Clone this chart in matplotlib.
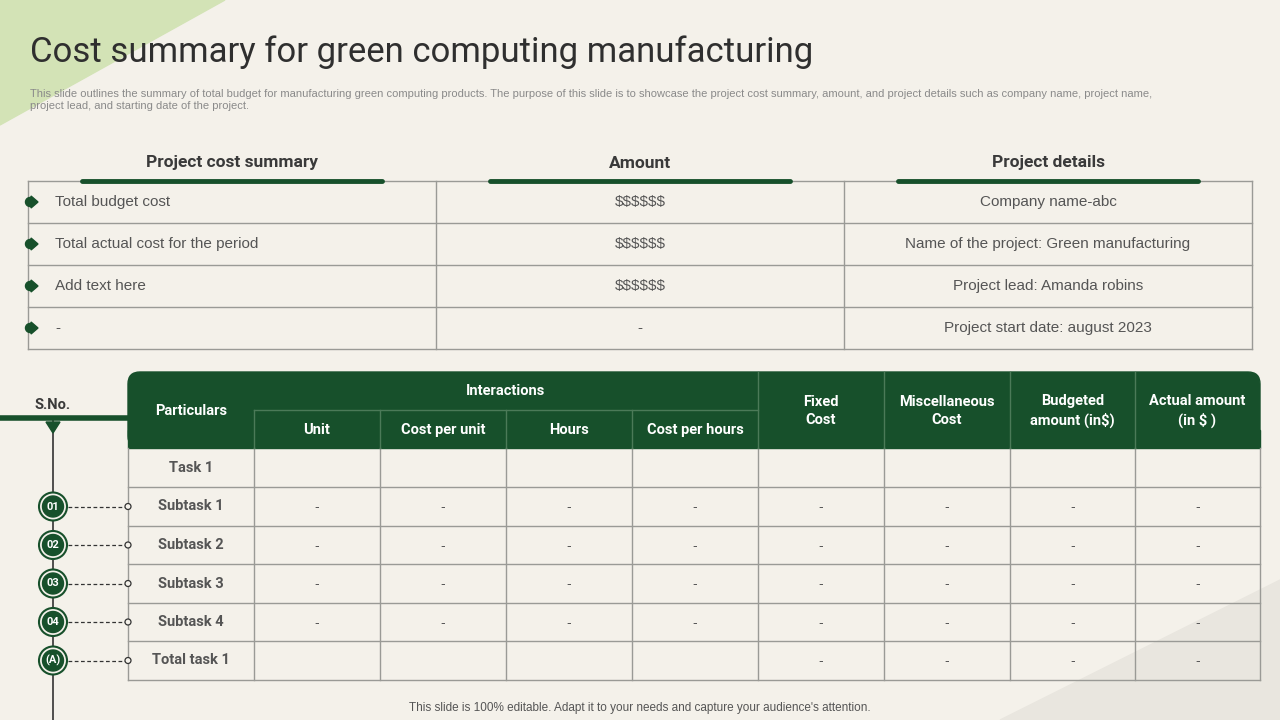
import matplotlib.pyplot as plt
from matplotlib.patches import Polygon, Circle, FancyBboxPatch, Rectangle

plt.rcParams["text.parse_math"] = False

GREEN = "#17502b"
GRID = "#9a9a96"
TXT = "#555555"
BG = "#f4f1ea"

title = "Cost summary for green computing manufacturing"
subtitle = ("This slide outlines the summary of total budget for manufacturing green computing products. The purpose of this slide is to showcase the project cost summary, amount, and project details such as company name, project name,\n"
            "project lead, and starting date of the project.")
footer = "This slide is 100% editable. Adapt it to your needs and capture your audience's attention."

top_headers = ["Project cost summary", "Amount", "Project details"]
summary_items = ["Total budget cost", "Total actual cost for the period", "Add text here", "-"]
amounts = ["$$$$$$", "$$$$$$", "$$$$$$", "-"]
details = ["Company name-abc", "Name of the project: Green manufacturing",
           "Project lead: Amanda robins", "Project start date: august 2023"]

sub_headers = ["Unit", "Cost per unit", "Hours", "Cost per hours"]
right_headers = ["Fixed\nCost", "Miscellaneous\nCost", "Budgeted\namount (in$)", "Actual amount\n(in $ )"]
particulars = ["Task 1", "Subtask 1", "Subtask 2", "Subtask 3", "Subtask 4", "Total task 1"]
sno = [None, "01", "02", "03", "04", "(A)"]
# which value columns (0..7) hold "-" for each row
dash_cols = [[], list(range(8)), list(range(8)), list(range(8)), list(range(8)), [4, 5, 6, 7]]

fig = plt.figure(figsize=(12.8, 7.2), dpi=100)
fig.patch.set_facecolor(BG)
ax = fig.add_axes([0, 0, 1, 1])
ax.set_xlim(0, 1280)
ax.set_ylim(720, 0)
ax.axis("off")

# decorations
ax.add_patch(Polygon([(0, 0), (225, 0), (0, 125)], color="#d3e3b6", zorder=0))
ax.add_patch(Polygon([(1000, 720), (1280, 580), (1280, 720)], color="#e9e6df", zorder=0))

ax.text(30, 52, title, fontsize=25, color="#2f2f2f", family="Roboto", va="center")
ax.text(30, 100, subtitle, fontsize=8, color="#8a8a8a", family="Liberation Sans", va="center", linespacing=1.3)
ax.text(640, 708, footer, fontsize=8.5, color=TXT, family="Liberation Sans", ha="center", va="center")

# top table
cols = [28, 436, 844, 1252]
rows = [181, 223, 265, 307, 349]
for i, h in enumerate(top_headers):
    cx = (cols[i] + cols[i + 1]) / 2
    ax.text(cx, 163, h, fontsize=12.5, fontweight="bold", color="#3a3a3a", family="Roboto", ha="center", va="center")
    ax.plot([cx - 150, cx + 150], [181, 181], color=GREEN, lw=3.5, solid_capstyle="round", zorder=3)
for y in rows:
    ax.plot([cols[0], cols[-1]], [y, y], color=GRID, lw=1)
for x in cols:
    ax.plot([x, x], [rows[0], rows[-1]], color=GRID, lw=1)
for r in range(4):
    cy = (rows[r] + rows[r + 1]) / 2
    ax.add_patch(Circle((30, cy), 4.5, color=GREEN, zorder=4))
    ax.add_patch(Polygon([(31, cy - 6), (38, cy), (31, cy + 6)], color=GREEN, zorder=4))
    ax.text(55, cy, summary_items[r], fontsize=11, color=TXT, family="Liberation Sans", va="center")
    ax.text(640, cy, amounts[r], fontsize=11, color=TXT, family="Liberation Sans", ha="center", va="center")
    ax.text(1048, cy, details[r], fontsize=11, color=TXT, family="Liberation Sans", ha="center", va="center")

# bottom table
bx = [128, 254, 380, 506, 632, 758, 884, 1010, 1135, 1260]
by = [448, 487, 526, 564, 603, 641, 680]
ax.add_patch(FancyBboxPatch((128, 372), 1132, 76, boxstyle="round,pad=0,rounding_size=12",
                            color=GREEN, zorder=2))
ax.add_patch(Rectangle((128, 430), 1132, 18, color=GREEN, zorder=2))
hc = "white"
ax.plot([254, 758], [410, 410], color="#4b7a58", lw=1, zorder=3)
for x in bx[1:-1]:
    y0 = 410 if x in bx[1:5] else 372
    ax.plot([x, x], [y0, 448], color="#4b7a58", lw=1, zorder=3)
ax.text(191, 411, "Particulars", fontsize=10.5, fontweight="bold", color=hc, family="Roboto", ha="center", va="center", zorder=4)
ax.text(506, 391, "Interactions", fontsize=10.5, fontweight="bold", color=hc, family="Roboto", ha="center", va="center", zorder=4)
for i, h in enumerate(sub_headers):
    ax.text((bx[i + 1] + bx[i + 2]) / 2, 430, h, fontsize=10.5, fontweight="bold", color=hc, family="Roboto", ha="center", va="center", zorder=4)
for i, h in enumerate(right_headers):
    ax.text((bx[i + 5] + bx[i + 6]) / 2, 411, h, fontsize=10.5, fontweight="bold", color=hc, family="Roboto", ha="center", va="center", linespacing=1.4, zorder=4)
for y in by[1:]:
    ax.plot([bx[0], bx[-1]], [y, y], color=GRID, lw=1)
for x in bx:
    ax.plot([x, x], [by[0], by[-1]], color=GRID, lw=1)

# S.No. timeline
ax.text(53, 405, "S.No.", fontsize=10.5, fontweight="bold", color="#3a3a3a", family="Roboto", ha="center", va="center")
ax.plot([0, 128], [418, 418], color=GREEN, lw=4, zorder=3)
ax.add_patch(Polygon([(46, 422), (60, 422), (53, 433)], color=GREEN, zorder=4))
ax.plot([53, 53], [420, 720], color="#333333", lw=1.2, zorder=1)

for r in range(6):
    cy = (by[r] + by[r + 1]) / 2
    ax.text(191, cy, particulars[r], fontsize=10.5, fontweight="bold", color=TXT, family="Roboto", ha="center", va="center")
    for c in dash_cols[r]:
        ax.text((bx[c + 1] + bx[c + 2]) / 2, cy + 1, "-", fontsize=10, color=TXT, family="Liberation Sans", ha="center", va="center")
    if sno[r]:
        ax.add_patch(Circle((53, cy), 14, facecolor=BG, edgecolor=GREEN, lw=1.5, zorder=4))
        ax.add_patch(Circle((53, cy), 10.5, color=GREEN, zorder=5))
        ax.text(53, cy, sno[r], fontsize=8, fontweight="bold", color="white", family="Roboto", ha="center", va="center", zorder=6)
        ax.plot([68, 125], [cy, cy], color="#333333", lw=0.9, ls=(0, (3, 2)), zorder=3)
        ax.add_patch(Circle((128, cy), 3, facecolor=BG, edgecolor="#333333", lw=0.9, zorder=4))

fig.savefig("out.png", dpi=100, facecolor=BG)
